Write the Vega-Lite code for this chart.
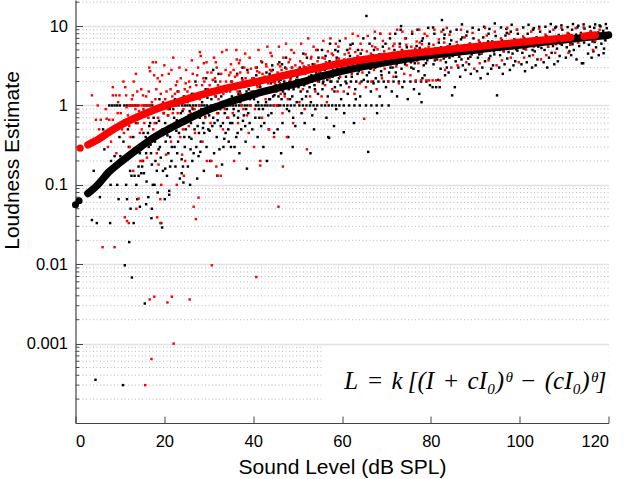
{
  "$schema": "https://vega.github.io/schema/vega-lite/v6.json",
  "width": 533,
  "height": 423,
  "autosize": {"type": "none"},
  "padding": {"left": 75.5, "top": 0, "right": 15.5, "bottom": 56},
  "background": "white",
  "config": {"view": {"stroke": null}, "font": "Liberation Sans"},
  "datasets": {
    "minor": [
      {"v": 0.0002}, {"v": 0.0003}, {"v": 0.0004}, {"v": 0.0005}, {"v": 0.0006}, {"v": 0.0007}, {"v": 0.0008}, {"v": 0.0009},
      {"v": 0.002}, {"v": 0.003}, {"v": 0.004}, {"v": 0.005}, {"v": 0.006}, {"v": 0.007}, {"v": 0.008}, {"v": 0.009},
      {"v": 0.02}, {"v": 0.03}, {"v": 0.04}, {"v": 0.05}, {"v": 0.06}, {"v": 0.07}, {"v": 0.08}, {"v": 0.09},
      {"v": 0.2}, {"v": 0.3}, {"v": 0.4}, {"v": 0.5}, {"v": 0.6}, {"v": 0.7}, {"v": 0.8}, {"v": 0.9},
      {"v": 2}, {"v": 3}, {"v": 4}, {"v": 5}, {"v": 6}, {"v": 7}, {"v": 8}, {"v": 9}, {"v": 20}
    ],
    "black": [
      {"x":4.5,"y":0.00035},{"x":10.7,"y":0.0003},{"x":11.1,"y":0.0097},{"x":12.7,"y":0.0068},{"x":15.6,"y":0.0032},{"x":12.1,"y":0.019},{"x":3.7,"y":0.036},{"x":4.8,"y":0.033},{"x":7.8,"y":0.033},{"x":4.1,"y":0.15},{"x":7.9,"y":0.1},{"x":9.4,"y":0.1},{"x":8.8,"y":0.23},{"x":9.7,"y":0.066},{"x":6.5,"y":0.28},{"x":8,"y":0.2},{"x":9,"y":0.16},{"x":7.6,"y":1},{"x":8.2,"y":1},{"x":8.8,"y":1},{"x":9.4,"y":1},{"x":10,"y":1},{"x":6.2,"y":0.5},{"x":5.5,"y":0.07},{"x":9.9,"y":0.4},
      {"x":10.1,"y":0.23},{"x":10.5,"y":0.2},{"x":11.4,"y":0.1},{"x":11.6,"y":0.066},{"x":12.4,"y":0.05},{"x":12.6,"y":0.13},{"x":13.3,"y":0.13},{"x":13.1,"y":0.033},{"x":13.7,"y":0.1},{"x":13.9,"y":0.066},{"x":14.2,"y":0.17},{"x":14.2,"y":0.13},{"x":14.5,"y":0.053},{"x":14.8,"y":0.14},{"x":11,"y":1},{"x":11.6,"y":1},{"x":12.2,"y":1},{"x":12.8,"y":1},{"x":13.4,"y":1},{"x":14,"y":1},{"x":12,"y":0.3},{"x":13,"y":0.4},{"x":14.5,"y":0.25},{"x":11.8,"y":0.5},{"x":13.6,"y":0.6},{"x":10.8,"y":0.35},{"x":12.3,"y":0.15},{"x":14.8,"y":0.75},
      {"x":15,"y":0.17},{"x":15.4,"y":0.14},{"x":15.9,"y":0.057},{"x":16,"y":0.11},{"x":16.5,"y":0.3},{"x":17.2,"y":0.05},{"x":17.1,"y":0.038},{"x":17.4,"y":0.1},{"x":17.8,"y":0.1},{"x":18.6,"y":0.4},{"x":18.8,"y":0.64},{"x":19.3,"y":0.033},{"x":19.5,"y":0.029},{"x":15.5,"y":1},{"x":16.1,"y":1},{"x":16.7,"y":1},{"x":17.3,"y":1},{"x":15.2,"y":0.2},{"x":16.3,"y":0.45},{"x":17,"y":0.25},{"x":17.6,"y":0.7},{"x":18,"y":0.2},{"x":18.3,"y":0.15},{"x":19,"y":0.3},{"x":19.6,"y":0.5},{"x":19.9,"y":0.8},{"x":16.8,"y":0.6},{"x":18.9,"y":1.2},{"x":15.8,"y":0.4},{"x":17.9,"y":0.35},{"x":19.2,"y":0.22},{"x":18.5,"y":0.08},{"x":16.4,"y":0.07},
      {"x":20.1,"y":0.066},{"x":20.2,"y":0.16},{"x":20.6,"y":0.13},{"x":20.8,"y":0.75},{"x":21.1,"y":0.075},{"x":21.1,"y":0.084},{"x":21.3,"y":0.4},{"x":21.3,"y":0.17},{"x":22.5,"y":0.17},{"x":23.9,"y":0.21},{"x":24.2,"y":0.17},{"x":24.3,"y":0.107},{"x":24.6,"y":0.3},{"x":20.5,"y":1},{"x":21.5,"y":1},{"x":22,"y":1},{"x":22.6,"y":1},{"x":23.2,"y":1},{"x":24,"y":1},{"x":24.6,"y":1},{"x":20,"y":0.5},{"x":21.8,"y":0.55},{"x":22.3,"y":0.3},{"x":22.8,"y":0.65},{"x":23.3,"y":0.45},{"x":23.7,"y":0.8},{"x":24.8,"y":0.5},{"x":20.9,"y":0.25},{"x":22,"y":0.9},{"x":23,"y":1.5},{"x":24.4,"y":1.3},{"x":21.6,"y":0.2},{"x":23.5,"y":0.12},{"x":22.9,"y":0.25},{"x":24.9,"y":0.7},{"x":20.3,"y":0.35},
      {"x":25.3,"y":0.17},{"x":25.8,"y":0.1},{"x":25.6,"y":0.4},{"x":26,"y":0.6},{"x":26.4,"y":0.9},{"x":26.8,"y":0.5},{"x":27.2,"y":0.3},{"x":27.7,"y":0.23},{"x":28,"y":0.7},{"x":28.5,"y":1.1},{"x":29,"y":0.45},{"x":29.5,"y":0.3},{"x":29.8,"y":0.8},{"x":25.2,"y":1},{"x":25.8,"y":1},{"x":26.5,"y":1},{"x":27.1,"y":1},{"x":27.8,"y":1},{"x":28.4,"y":1},{"x":29,"y":1},{"x":29.6,"y":1},{"x":25.5,"y":0.75},{"x":26.2,"y":1.4},{"x":27,"y":2},{"x":27.5,"y":0.55},{"x":28.2,"y":0.35},{"x":28.8,"y":0.6},{"x":29.3,"y":1.6},{"x":26.6,"y":0.25},{"x":28.9,"y":0.15},{"x":27.4,"y":0.12},{"x":29.9,"y":0.5},{"x":25.9,"y":0.28},{"x":26.9,"y":0.8},
      {"x":30.2,"y":0.48},{"x":30.3,"y":0.2},{"x":30.6,"y":1.2},{"x":31,"y":0.7},{"x":31.4,"y":0.9},{"x":31.8,"y":0.4},{"x":32.4,"y":0.28},{"x":32.8,"y":1.3},{"x":33.2,"y":0.6},{"x":33.6,"y":0.8},{"x":34,"y":1.5},{"x":34.4,"y":0.5},{"x":35,"y":0.3},{"x":30.5,"y":1},{"x":31.1,"y":1},{"x":31.7,"y":1},{"x":32.3,"y":1},{"x":33,"y":1},{"x":33.7,"y":1},{"x":34.3,"y":1},{"x":34.9,"y":1},{"x":30.8,"y":0.55},{"x":31.5,"y":2},{"x":32,"y":0.65},{"x":32.6,"y":0.9},{"x":33.4,"y":1.7},{"x":34.2,"y":0.7},{"x":34.7,"y":1.2},{"x":31.2,"y":0.25},{"x":33,"y":0.18},{"x":34.5,"y":0.35},{"x":30.9,"y":1.6},{"x":32.2,"y":2.5},{"x":33.8,"y":0.45},{"x":31.9,"y":0.13},
      {"x":35.3,"y":0.6},{"x":35.6,"y":0.9},{"x":36,"y":1.2},{"x":36.2,"y":0.4},{"x":36.6,"y":0.7},{"x":37,"y":1.5},{"x":37.3,"y":0.5},{"x":37.7,"y":0.64},{"x":38,"y":1.8},{"x":38.4,"y":0.9},{"x":38.8,"y":1.3},{"x":39.2,"y":0.6},{"x":39.6,"y":2},{"x":35.5,"y":1},{"x":36.1,"y":1},{"x":36.8,"y":1},{"x":37.4,"y":1},{"x":38.1,"y":1},{"x":38.7,"y":1},{"x":39.4,"y":1},{"x":35.8,"y":0.3},{"x":36.9,"y":0.25},{"x":38.3,"y":0.35},{"x":39.8,"y":0.5},{"x":35.1,"y":2},{"x":36.4,"y":2.5},{"x":37.6,"y":3},{"x":39,"y":1.6},{"x":38.6,"y":0.16},{"x":37.9,"y":0.75},{"x":39.3,"y":1.2},{"x":36.7,"y":1.4},
      {"x":40.2,"y":1.2},{"x":40.5,"y":0.7},{"x":40.9,"y":1.8},{"x":41.3,"y":0.9},{"x":41.7,"y":1.4},{"x":42.1,"y":2.2},{"x":42.5,"y":0.6},{"x":42.9,"y":1.1},{"x":43.3,"y":1.6},{"x":43.7,"y":2.5},{"x":44.1,"y":0.8},{"x":44.5,"y":1.3},{"x":44.9,"y":2},{"x":40.6,"y":1},{"x":41.2,"y":1},{"x":41.9,"y":1},{"x":42.6,"y":1},{"x":43.2,"y":1},{"x":43.9,"y":1},{"x":44.6,"y":1},{"x":40.3,"y":2},{"x":41.5,"y":2},{"x":42.8,"y":2},{"x":44.2,"y":2},{"x":41,"y":0.4},{"x":42.3,"y":0.3},{"x":43.5,"y":0.5},{"x":44.7,"y":0.45},{"x":40.8,"y":3},{"x":42,"y":3.5},{"x":43.1,"y":0.2},{"x":44.4,"y":2.8},{"x":41.8,"y":0.55},{"x":43.8,"y":1.2},
      {"x":45.2,"y":1.5},{"x":45.6,"y":1},{"x":46,"y":2.4},{"x":46.4,"y":1.2},{"x":46.8,"y":1.8},{"x":47.2,"y":3},{"x":47.6,"y":0.9},{"x":48,"y":1.6},{"x":48.4,"y":2.2},{"x":48.8,"y":1.3},{"x":49.2,"y":2.6},{"x":49.6,"y":1.9},{"x":45.4,"y":1},{"x":46.1,"y":1},{"x":46.9,"y":1},{"x":47.7,"y":1},{"x":48.5,"y":1},{"x":49.3,"y":1},{"x":45.8,"y":2},{"x":47,"y":2},{"x":48.2,"y":2},{"x":49.4,"y":2},{"x":45.5,"y":0.5},{"x":46.6,"y":0.6},{"x":47.9,"y":0.4},{"x":49,"y":0.7},{"x":45.9,"y":3.5},{"x":47.4,"y":4},{"x":48.7,"y":3},{"x":49.8,"y":1.1},{"x":46.3,"y":0.25},{"x":48.9,"y":0.3},{"x":47.1,"y":1.4},{"x":49.9,"y":2.3},
      {"x":50.2,"y":1.7},{"x":50.6,"y":2.5},{"x":51,"y":1.2},{"x":51.4,"y":2},{"x":51.8,"y":3},{"x":52.2,"y":1.5},{"x":52.6,"y":2.3},{"x":53,"y":1.1},{"x":53.4,"y":3.3},{"x":53.8,"y":1.8},{"x":54.2,"y":2.6},{"x":54.6,"y":1.4},{"x":50.4,"y":1},{"x":51.2,"y":1},{"x":52,"y":1},{"x":52.8,"y":1},{"x":53.6,"y":1},{"x":54.4,"y":1},{"x":50.8,"y":2},{"x":52.4,"y":2},{"x":53.2,"y":2},{"x":54.8,"y":2},{"x":50.5,"y":3},{"x":52.1,"y":4},{"x":53.5,"y":3},{"x":54.5,"y":5},{"x":51.6,"y":0.6},{"x":53.7,"y":0.5},{"x":50.9,"y":0.8},{"x":54,"y":0.9},{"x":52.9,"y":0.25},{"x":51.3,"y":4.5},
      {"x":55.2,"y":2.2},{"x":55.6,"y":1.6},{"x":56,"y":3},{"x":56.4,"y":2.4},{"x":56.8,"y":1.3},{"x":57.2,"y":3.6},{"x":57.6,"y":2},{"x":58,"y":2.8},{"x":58.4,"y":1.7},{"x":58.8,"y":4},{"x":59.2,"y":2.5},{"x":59.6,"y":3.2},{"x":55.4,"y":1},{"x":56.2,"y":1},{"x":57,"y":1},{"x":57.8,"y":1},{"x":58.6,"y":1},{"x":59.4,"y":1},{"x":55.8,"y":2},{"x":57.4,"y":2},{"x":59,"y":2},{"x":55.5,"y":5},{"x":57.3,"y":6},{"x":58.5,"y":5},{"x":56.5,"y":0.7},{"x":58.2,"y":0.55},{"x":59.8,"y":1.2},{"x":56.9,"y":0.4},{"x":59.5,"y":6.5},{"x":57.1,"y":0.39},
      {"x":60.2,"y":2.6},{"x":60.6,"y":3.4},{"x":61,"y":1.9},{"x":61.4,"y":2.9},{"x":61.8,"y":4.2},{"x":62.2,"y":2.3},{"x":62.6,"y":3.1},{"x":63,"y":1.6},{"x":63.4,"y":3.8},{"x":63.8,"y":2.7},{"x":64.2,"y":4.5},{"x":64.6,"y":3},{"x":60.4,"y":1},{"x":61.6,"y":1},{"x":62.8,"y":1},{"x":64,"y":1},{"x":60.8,"y":2},{"x":62,"y":2},{"x":63.2,"y":2},{"x":64.4,"y":2},{"x":61.2,"y":5},{"x":62.4,"y":6},{"x":63.6,"y":5},{"x":64.8,"y":7},{"x":60.5,"y":0.8},{"x":62.7,"y":0.6},{"x":64.1,"y":1.3},{"x":61.3,"y":1.4},{"x":65.5,"y":13.4},{"x":65.9,"y":0.26},{"x":60.4,"y":0.46},
      {"x":65.2,"y":3.2},{"x":65.6,"y":2.4},{"x":66,"y":4},{"x":66.4,"y":2.9},{"x":66.8,"y":3.6},{"x":67.2,"y":5},{"x":67.6,"y":2.2},{"x":68,"y":3.3},{"x":68.4,"y":4.4},{"x":68.8,"y":2.7},{"x":69.2,"y":5.5},{"x":69.6,"y":3.8},{"x":65.4,"y":1},{"x":66.6,"y":1},{"x":67.8,"y":1},{"x":69,"y":1},{"x":65.8,"y":2},{"x":67,"y":2},{"x":68.2,"y":2},{"x":69.4,"y":2},{"x":66.2,"y":6},{"x":67.4,"y":7},{"x":68.6,"y":8},{"x":69.8,"y":6},{"x":66.5,"y":1.5},{"x":68.5,"y":1.3},{"x":67.9,"y":0.8},{"x":69.9,"y":1.7},
      {"x":70.2,"y":3.5},{"x":70.6,"y":2.6},{"x":71,"y":4.2},{"x":71.4,"y":3},{"x":71.8,"y":5},{"x":72.2,"y":2.3},{"x":72.6,"y":3.7},{"x":73,"y":6},{"x":73.4,"y":2.9},{"x":73.8,"y":4.6},{"x":74.2,"y":3.3},{"x":74.6,"y":5.4},{"x":70.4,"y":2},{"x":71.6,"y":2},{"x":72.8,"y":2},{"x":74,"y":2},{"x":70.8,"y":7},{"x":72,"y":8},{"x":73.2,"y":9},{"x":74.4,"y":7},{"x":71.2,"y":1.5},{"x":72.4,"y":1.3},{"x":73.6,"y":1.7},{"x":74.8,"y":1.2},{"x":70.5,"y":1},{"x":73.3,"y":10},
      {"x":75.2,"y":3.9},{"x":75.6,"y":3},{"x":76,"y":4.8},{"x":76.4,"y":3.4},{"x":76.8,"y":5.6},{"x":77.2,"y":2.7},{"x":77.6,"y":4.2},{"x":78,"y":6.5},{"x":78.4,"y":3.2},{"x":78.8,"y":5},{"x":79.2,"y":3.7},{"x":79.6,"y":6},{"x":75.4,"y":2},{"x":76.6,"y":2},{"x":77.8,"y":2},{"x":79,"y":2},{"x":75.8,"y":8},{"x":77,"y":9},{"x":78.2,"y":7},{"x":79.4,"y":9.5},{"x":76.2,"y":1.6},{"x":77.4,"y":1.4},{"x":78.6,"y":2.4},{"x":79.8,"y":1.8},{"x":77.9,"y":1.1},
      {"x":80.2,"y":4.3},{"x":80.6,"y":3.3},{"x":81,"y":5.2},{"x":81.4,"y":3.8},{"x":81.8,"y":6.2},{"x":82.2,"y":2.9},{"x":82.5,"y":11.9},{"x":82.6,"y":4.6},{"x":83,"y":7},{"x":83.4,"y":3.5},{"x":83.8,"y":5.5},{"x":84.2,"y":4},{"x":84.6,"y":6.6},{"x":80.4,"y":1.7},{"x":81.2,"y":1.7},{"x":82,"y":1.7},{"x":83.2,"y":2.4},{"x":84,"y":2.6},{"x":80.8,"y":8},{"x":82.8,"y":9},{"x":84.4,"y":8.5},{"x":81.6,"y":2.1},{"x":83.6,"y":3},{"x":84.8,"y":1.34},{"x":80.5,"y":9.6},
      {"x":85.2,"y":4.7},{"x":85.6,"y":3.6},{"x":86,"y":5.7},{"x":86.4,"y":4.1},{"x":86.8,"y":6.8},{"x":87.2,"y":3.2},{"x":87.6,"y":5},{"x":88,"y":7.6},{"x":88.4,"y":3.9},{"x":88.8,"y":6},{"x":89.2,"y":4.4},{"x":89.6,"y":7},{"x":85.4,"y":1.7},{"x":86.6,"y":2.3},{"x":87.8,"y":2.8},{"x":89,"y":2.5},{"x":85.8,"y":9},{"x":87,"y":10.5},{"x":88.2,"y":8.5},{"x":89.4,"y":9.5},{"x":86.2,"y":3},{"x":88.6,"y":3.3},
      {"x":90.2,"y":5.1},{"x":90.6,"y":4},{"x":91,"y":6.2},{"x":91.4,"y":4.5},{"x":91.8,"y":7.2},{"x":92.2,"y":3.6},{"x":92.6,"y":5.5},{"x":93,"y":8},{"x":93.4,"y":4.2},{"x":93.8,"y":6.4},{"x":94.2,"y":4.8},{"x":94.6,"y":7.5},{"x":90.4,"y":2.7},{"x":91.6,"y":3},{"x":92.8,"y":2.5},{"x":94,"y":3.2},{"x":90.8,"y":9},{"x":92,"y":9.8},{"x":93.2,"y":9.2},{"x":94.4,"y":10.8},{"x":94.9,"y":1.34},{"x":91.2,"y":2.2},{"x":93.6,"y":2.9},
      {"x":95.2,"y":5.4},{"x":95.6,"y":4.3},{"x":96,"y":6.6},{"x":96.4,"y":4.8},{"x":96.8,"y":7.6},{"x":97.2,"y":3.9},{"x":97.6,"y":5.9},{"x":98,"y":8.5},{"x":98.4,"y":4.5},{"x":98.8,"y":6.8},{"x":99.2,"y":5.1},{"x":99.6,"y":8},{"x":95.4,"y":3},{"x":96.6,"y":3.3},{"x":97.8,"y":2.8},{"x":99,"y":3.6},{"x":95.8,"y":9.6},{"x":97,"y":9.2},{"x":98.2,"y":10.4},{"x":99.4,"y":9},{"x":96.2,"y":2.5},{"x":98.6,"y":3.2},
      {"x":100.2,"y":5.8},{"x":100.6,"y":4.6},{"x":101,"y":7},{"x":101.4,"y":5.1},{"x":101.8,"y":8},{"x":102.2,"y":4.2},{"x":102.6,"y":6.3},{"x":103,"y":9},{"x":103.4,"y":4.8},{"x":103.8,"y":7.2},{"x":104.2,"y":5.5},{"x":104.6,"y":8.5},{"x":100.4,"y":3.3},{"x":101.6,"y":3.5},{"x":102.8,"y":3},{"x":104,"y":3.8},{"x":100.8,"y":9.6},{"x":102,"y":10.4},{"x":103.2,"y":9.4},{"x":104.4,"y":9.8},{"x":101.2,"y":2.7},{"x":103.6,"y":3.2},
      {"x":105.2,"y":6.2},{"x":105.6,"y":5},{"x":106,"y":7.5},{"x":106.4,"y":5.5},{"x":106.8,"y":8.5},{"x":107.2,"y":4.6},{"x":107.6,"y":6.7},{"x":108,"y":9.5},{"x":108.4,"y":5.2},{"x":108.8,"y":7.7},{"x":109.2,"y":6},{"x":109.6,"y":9},{"x":105.4,"y":3.5},{"x":106.6,"y":4},{"x":107.8,"y":3.3},{"x":109,"y":4.2},{"x":105.8,"y":9.8},{"x":107,"y":10.6},{"x":108.2,"y":9.8},{"x":109.4,"y":10.2},{"x":106.2,"y":3},{"x":108.6,"y":3.6},
      {"x":110.2,"y":6.7},{"x":110.6,"y":5.4},{"x":111,"y":8},{"x":111.4,"y":6},{"x":111.8,"y":9},{"x":112.2,"y":5},{"x":112.6,"y":7.2},{"x":113,"y":9.6},{"x":113.4,"y":5.6},{"x":113.8,"y":8.2},{"x":114,"y":3.4},{"x":114.3,"y":3.4},{"x":114.6,"y":9.3},{"x":110.4,"y":4},{"x":111.6,"y":4.3},{"x":112.8,"y":3.8},{"x":110.8,"y":9.7},{"x":112,"y":10.6},{"x":113.2,"y":10.1},{"x":114.4,"y":10.5},{"x":111.2,"y":4.8},
      {"x":115.2,"y":7.2},{"x":115.6,"y":5.8},{"x":116,"y":8.5},{"x":116.4,"y":6.4},{"x":116.8,"y":9.5},{"x":117.2,"y":5.4},{"x":117.6,"y":7.6},{"x":118,"y":10.2},{"x":118.4,"y":6},{"x":118.8,"y":8.7},{"x":118.9,"y":4.55},{"x":119.2,"y":6.8},{"x":119.6,"y":9.4},{"x":115.4,"y":4.5},{"x":116.6,"y":4.8},{"x":117.8,"y":4.3},{"x":119,"y":5.2},{"x":115.8,"y":9.8},{"x":117,"y":10.5},{"x":118.2,"y":9.9},{"x":119.4,"y":10.6},{"x":116.2,"y":4},
      {"x":15.3,"y":0.45},{"x":15.9,"y":0.25},{"x":16.6,"y":0.55},{"x":17.2,"y":0.18},{"x":17.7,"y":0.42},{"x":18.2,"y":0.6},{"x":18.7,"y":0.28},{"x":19.1,"y":0.9},{"x":19.7,"y":0.15},{"x":16.9,"y":0.32},
      {"x":20.2,"y":0.6},{"x":20.7,"y":0.42},{"x":21.2,"y":0.9},{"x":21.7,"y":0.3},{"x":22.2,"y":0.7},{"x":22.7,"y":0.48},{"x":23.1,"y":0.35},{"x":23.6,"y":0.6},{"x":24.1,"y":0.85},{"x":24.5,"y":0.4},{"x":21,"y":0.55},{"x":23.9,"y":0.14},{"x":22.4,"y":1.2},
      {"x":25.1,"y":0.62},{"x":25.7,"y":0.85},{"x":26.1,"y":0.38},{"x":26.7,"y":0.7},{"x":27.3,"y":1.3},{"x":27.8,"y":0.45},{"x":28.3,"y":0.9},{"x":28.7,"y":0.52},{"x":29.2,"y":0.72},{"x":29.7,"y":1.25},{"x":26.3,"y":0.2},{"x":28.1,"y":0.26},{"x":29.4,"y":2.2},
      {"x":30.1,"y":0.75},{"x":30.7,"y":0.95},{"x":31.3,"y":0.6},{"x":31.6,"y":1.3},{"x":32.1,"y":0.8},{"x":32.7,"y":0.55},{"x":33.1,"y":1.1},{"x":33.5,"y":0.38},{"x":34.1,"y":0.9},{"x":34.6,"y":1.7},{"x":31,"y":2.8},{"x":33.3,"y":0.3},{"x":34.8,"y":0.6},
      {"x":35.2,"y":1.3},{"x":35.7,"y":0.75},{"x":36.3,"y":1.7},{"x":36.7,"y":0.85},{"x":37.1,"y":1.1},{"x":37.5,"y":2.2},{"x":38.2,"y":0.55},{"x":38.5,"y":1.5},{"x":38.9,"y":0.8},{"x":39.5,"y":1.9},{"x":39.9,"y":1.3},{"x":36.5,"y":0.45},{"x":38.7,"y":2.8},
      {"x":40.1,"y":1.5},{"x":40.7,"y":2.4},{"x":41.1,"y":1.1},{"x":41.6,"y":1.7},{"x":42.2,"y":0.9},{"x":42.7,"y":1.6},{"x":43,"y":2.6},{"x":43.6,"y":1.2},{"x":44,"y":1.9},{"x":44.8,"y":1.35},{"x":41.4,"y":0.7},{"x":43.4,"y":0.75},{"x":44.3,"y":3.2},
      {"x":45.1,"y":1.8},{"x":45.7,"y":1.3},{"x":46.2,"y":2.1},{"x":46.7,"y":1.5},{"x":47.3,"y":2.3},{"x":47.8,"y":1.7},{"x":48.3,"y":1.2},{"x":48.6,"y":2.7},{"x":49.1,"y":1.6},{"x":49.7,"y":2.1},{"x":46.5,"y":3.3},{"x":48.1,"y":0.85},{"x":49.5,"y":0.55},
      {"x":50.1,"y":2.1},{"x":50.7,"y":1.5},{"x":51.1,"y":2.6},{"x":51.5,"y":1.8},{"x":52.3,"y":2.8},{"x":52.7,"y":1.7},{"x":53.1,"y":2.4},{"x":53.9,"y":1.6},{"x":54.3,"y":3.1},{"x":54.9,"y":2.2},{"x":51.9,"y":1.3},{"x":53.3,"y":0.75},{"x":54.7,"y":4},
      {"x":55.1,"y":2.6},{"x":55.7,"y":1.9},{"x":56.1,"y":2.8},{"x":56.7,"y":2.1},{"x":57.5,"y":3.2},{"x":57.9,"y":2.3},{"x":58.3,"y":1.5},{"x":58.9,"y":3},{"x":59.3,"y":2.2},{"x":59.7,"y":1.8},{"x":56.3,"y":4.2},{"x":58.7,"y":0.9},{"x":59.1,"y":4.8},
      {"x":60.3,"y":3},{"x":60.9,"y":2.3},{"x":61.5,"y":3.5},{"x":62.1,"y":2.7},{"x":62.9,"y":3.9},{"x":63.5,"y":2.5},{"x":64.3,"y":3.4},{"x":64.9,"y":2.1},{"x":65.5,"y":3.6},{"x":66.1,"y":2.6},{"x":66.9,"y":4.3},{"x":67.5,"y":3},{"x":68.1,"y":3.8},{"x":68.9,"y":2.4},{"x":69.5,"y":4.4},{"x":63.1,"y":1.2},{"x":67.1,"y":1.9},{"x":61.9,"y":5.8},
      {"x":70.3,"y":3.9},{"x":70.9,"y":3},{"x":71.5,"y":4.4},{"x":72.3,"y":3.3},{"x":72.9,"y":4.1},{"x":73.5,"y":5},{"x":74.3,"y":3.6},{"x":74.9,"y":4.5},{"x":75.5,"y":3.5},{"x":76.3,"y":4.4},{"x":76.9,"y":3.7},{"x":77.5,"y":5.3},{"x":78.3,"y":4},{"x":78.9,"y":3.4},{"x":79.5,"y":4.8},{"x":72.1,"y":2.6},{"x":76.1,"y":2.9},{"x":78.1,"y":2.2},
      {"x":80.3,"y":4.7},{"x":80.9,"y":3.7},{"x":81.5,"y":4.4},{"x":82.3,"y":5.4},{"x":82.9,"y":3.9},{"x":83.5,"y":4.6},{"x":84.3,"y":5.9},{"x":84.9,"y":4.2},{"x":85.5,"y":5.1},{"x":86.3,"y":4.5},{"x":86.9,"y":3.8},{"x":87.5,"y":5.7},{"x":88.3,"y":4.8},{"x":88.9,"y":4.1},{"x":89.5,"y":5.3},{"x":83.1,"y":7.8},{"x":87.1,"y":7.2},
      {"x":90.3,"y":5.3},{"x":90.9,"y":4.4},{"x":91.5,"y":5.7},{"x":92.3,"y":4.9},{"x":92.9,"y":6.4},{"x":93.5,"y":5.2},{"x":94.3,"y":4.4},{"x":94.9,"y":5.9},{"x":95.5,"y":5},{"x":96.3,"y":6.1},{"x":96.9,"y":5.3},{"x":97.5,"y":4.7},{"x":98.3,"y":6.2},{"x":98.9,"y":5.5},{"x":99.5,"y":4.9},{"x":93.1,"y":3.9},{"x":97.1,"y":8.2},
      {"x":100.3,"y":6},{"x":100.9,"y":5.2},{"x":101.5,"y":6.6},{"x":102.3,"y":5.9},{"x":102.9,"y":5},{"x":103.5,"y":6.9},{"x":104.3,"y":6.1},{"x":104.9,"y":5.3},{"x":105.5,"y":6.6},{"x":106.3,"y":7.1},{"x":106.9,"y":6},{"x":107.5,"y":5.6},{"x":108.3,"y":7.2},{"x":108.9,"y":6.3},{"x":109.5,"y":5.8},{"x":110.3,"y":7.3},{"x":111.1,"y":6.4},{"x":111.9,"y":5.9},{"x":112.7,"y":7.8},{"x":113.5,"y":6.8},{"x":114.5,"y":6.2},{"x":115.3,"y":8},{"x":116.1,"y":7},{"x":116.9,"y":6.3},{"x":117.7,"y":8.3},{"x":118.5,"y":7.3},{"x":119.3,"y":6.6},{"x":119.8,"y":8.1}
    ],
    "red": [
      {"x":3.7,"y":1.34},{"x":4.6,"y":0.66},{"x":5.7,"y":0.66},{"x":7.6,"y":0.66},{"x":8.4,"y":0.66},{"x":8.4,"y":1.7},{"x":8.4,"y":1.34},{"x":9.1,"y":1.34},{"x":9.9,"y":1.34},{"x":6.1,"y":0.0164},{"x":8.8,"y":0.0164},{"x":7,"y":0.68},{"x":6.5,"y":0.45},{"x":9.5,"y":0.8},{"x":8,"y":0.35},{"x":9.2,"y":0.25},{"x":5,"y":1},{"x":9.7,"y":0.55},
      {"x":11.4,"y":1.34},{"x":12.9,"y":1.34},{"x":13.1,"y":2},{"x":11.1,"y":0.039},{"x":12,"y":0.033},{"x":11.6,"y":0.035},{"x":13.7,"y":0.05},{"x":14.2,"y":0.067},{"x":14.6,"y":0.2},{"x":15,"y":0.2},{"x":12,"y":1},{"x":12.6,"y":1},{"x":13.2,"y":1},{"x":13.8,"y":1},{"x":14.4,"y":1},{"x":10.5,"y":0.5},{"x":11.8,"y":0.75},{"x":12.4,"y":0.4},{"x":13.5,"y":0.9},{"x":14,"y":0.6},{"x":14.8,"y":1.6},{"x":10.8,"y":2},{"x":12.2,"y":0.3},{"x":13,"y":0.15},{"x":14.5,"y":0.45},{"x":11,"y":0.65},
      {"x":15.2,"y":1.34},{"x":15.7,"y":0.0003},{"x":16.1,"y":0.22},{"x":16.7,"y":0.0036},{"x":17.1,"y":0.00064},{"x":17.75,"y":0.0039},{"x":17.7,"y":2.4},{"x":18.1,"y":3.5},{"x":17.4,"y":3.5},{"x":18.4,"y":0.039},{"x":18.7,"y":0.18},{"x":19.1,"y":0.066},{"x":19.1,"y":0.033},{"x":19.3,"y":0.1},{"x":19.5,"y":2.4},{"x":15,"y":1},{"x":15.6,"y":1},{"x":16.2,"y":1},{"x":16.8,"y":1},{"x":15.5,"y":0.6},{"x":16.5,"y":1.5},{"x":17,"y":0.8},{"x":17.5,"y":0.5},{"x":18,"y":1.2},{"x":18.6,"y":0.7},{"x":19,"y":2},{"x":19.7,"y":1.1},{"x":16,"y":0.35},{"x":18.3,"y":0.25},{"x":19.4,"y":0.45},{"x":16.8,"y":2.7},
      {"x":20.4,"y":0.24},{"x":20.7,"y":0.0033},{"x":21,"y":2.5},{"x":21.7,"y":0.0039},{"x":22.1,"y":0.001},{"x":22.8,"y":0.1},{"x":22.9,"y":2},{"x":24,"y":0.24},{"x":24.4,"y":0.13},{"x":24.7,"y":0.2},{"x":24.9,"y":2.8},{"x":20.5,"y":1.5},{"x":21.2,"y":1},{"x":21.8,"y":1.3},{"x":22.3,"y":0.6},{"x":22.6,"y":1.8},{"x":23,"y":0.8},{"x":23.4,"y":3},{"x":23.8,"y":1.1},{"x":24.2,"y":0.5},{"x":24.6,"y":1.6},{"x":20.9,"y":0.75},{"x":23.6,"y":0.4},{"x":21.5,"y":0.35},{"x":20,"y":3.2},{"x":22,"y":4},{"x":23.2,"y":1.5},{"x":24.8,"y":1.2},
      {"x":25.7,"y":0.0036},{"x":26.6,"y":0.053},{"x":27.1,"y":0.037},{"x":27.7,"y":0.069},{"x":28,"y":4.7},{"x":28.2,"y":4.2},{"x":29.6,"y":0.2},{"x":25.2,"y":1.5},{"x":25.6,"y":2},{"x":26,"y":1.2},{"x":26.4,"y":2.5},{"x":26.8,"y":0.9},{"x":27.2,"y":1.8},{"x":27.6,"y":3},{"x":28.4,"y":1.4},{"x":28.8,"y":2.2},{"x":29.2,"y":0.7},{"x":29.8,"y":1.6},{"x":25.5,"y":0.55},{"x":26.9,"y":0.45},{"x":28.6,"y":0.35},{"x":29.5,"y":3.5},{"x":26.2,"y":3.7},{"x":27.9,"y":1},{"x":29,"y":2},{"x":25.9,"y":0.8},
      {"x":30.6,"y":0.2},{"x":30.7,"y":0.0097},{"x":31.7,"y":0.17},{"x":32,"y":0.13},{"x":32.7,"y":0.13},{"x":33,"y":4.7},{"x":30.2,"y":1.8},{"x":30.6,"y":2.6},{"x":31,"y":1.4},{"x":31.4,"y":2.2},{"x":31.8,"y":3},{"x":32.2,"y":1.2},{"x":32.6,"y":2},{"x":33.4,"y":1.6},{"x":33.8,"y":2.8},{"x":34.2,"y":1.1},{"x":34.6,"y":2.4},{"x":35,"y":3.3},{"x":30.4,"y":0.6},{"x":31.9,"y":0.8},{"x":33.2,"y":0.5},{"x":34.4,"y":0.7},{"x":31.2,"y":4},{"x":34,"y":5},{"x":32.4,"y":1},{"x":34.8,"y":1.5},
      {"x":35.7,"y":0.2},{"x":37,"y":3.7},{"x":35.2,"y":2},{"x":35.6,"y":2.8},{"x":36,"y":1.6},{"x":36.4,"y":2.4},{"x":36.8,"y":3.4},{"x":37.2,"y":1.4},{"x":37.6,"y":2.1},{"x":38,"y":3},{"x":38.4,"y":1.8},{"x":38.8,"y":2.6},{"x":39.2,"y":4},{"x":39.6,"y":1.5},{"x":35.4,"y":0.8},{"x":36.6,"y":0.6},{"x":37.8,"y":0.9},{"x":39,"y":0.45},{"x":36.2,"y":5},{"x":38.2,"y":4.5},{"x":39.4,"y":1},{"x":37.4,"y":1},{"x":39.8,"y":2.2},
      {"x":40.7,"y":0.0069},{"x":41.6,"y":0.2},{"x":41.6,"y":0.175},{"x":40.2,"y":0.3},{"x":40.2,"y":2.2},{"x":40.6,"y":3},{"x":41,"y":1.7},{"x":41.4,"y":2.6},{"x":41.8,"y":3.6},{"x":42.2,"y":1.5},{"x":42.6,"y":2.3},{"x":43,"y":3.1},{"x":43.4,"y":1.9},{"x":43.8,"y":2.8},{"x":44.2,"y":4.2},{"x":44.6,"y":1.6},{"x":40.4,"y":0.9},{"x":42,"y":0.7},{"x":43.6,"y":0.5},{"x":44.8,"y":1},{"x":41.2,"y":5},{"x":43.2,"y":5.5},{"x":42.8,"y":1.2},{"x":44.4,"y":2},{"x":40.8,"y":1.3},{"x":44.7,"y":0.4},
      {"x":46.7,"y":0.17},{"x":45.7,"y":0.053},{"x":47.6,"y":0.4},{"x":45.2,"y":2.4},{"x":45.6,"y":3.3},{"x":46,"y":1.9},{"x":46.4,"y":2.8},{"x":46.8,"y":4},{"x":47.2,"y":1.7},{"x":47.6,"y":2.6},{"x":48,"y":3.5},{"x":48.4,"y":2.1},{"x":48.8,"y":3},{"x":49.2,"y":4.6},{"x":49.6,"y":1.8},{"x":45.4,"y":1},{"x":46.6,"y":0.8},{"x":47.8,"y":1.2},{"x":49,"y":0.6},{"x":45.8,"y":5.5},{"x":47.4,"y":6},{"x":48.6,"y":5},{"x":49.8,"y":2.4},{"x":46.2,"y":1.4},
      {"x":52.1,"y":0.28},{"x":50.2,"y":2.7},{"x":50.6,"y":3.6},{"x":51,"y":2.1},{"x":51.4,"y":3.1},{"x":51.8,"y":4.4},{"x":52.2,"y":1.9},{"x":52.6,"y":2.9},{"x":53,"y":3.9},{"x":53.4,"y":2.3},{"x":53.8,"y":3.3},{"x":54.2,"y":5},{"x":54.6,"y":2},{"x":50.4,"y":1.1},{"x":51.6,"y":0.9},{"x":52.8,"y":1.3},{"x":54,"y":1.5},{"x":50.8,"y":6},{"x":52.4,"y":7},{"x":53.6,"y":5.5},{"x":54.8,"y":2.6},{"x":51.2,"y":1.6},
      {"x":55.2,"y":3.1},{"x":55.6,"y":4},{"x":56,"y":2.4},{"x":56.4,"y":3.5},{"x":56.8,"y":4.8},{"x":57.2,"y":2.2},{"x":57.6,"y":3.2},{"x":58,"y":4.3},{"x":58.4,"y":2.6},{"x":58.8,"y":3.7},{"x":59.2,"y":5.5},{"x":59.6,"y":2.3},{"x":55.4,"y":1.3},{"x":56.6,"y":1.1},{"x":57.8,"y":1.6},{"x":59,"y":1.5},{"x":55.8,"y":6.5},{"x":57.4,"y":7},{"x":58.6,"y":6},{"x":59.8,"y":3},{"x":56.2,"y":1.8},
      {"x":60.2,"y":3.5},{"x":60.6,"y":4.4},{"x":61,"y":2.7},{"x":61.4,"y":3.8},{"x":61.8,"y":5.2},{"x":62.2,"y":2.5},{"x":62.6,"y":3.5},{"x":63,"y":4.7},{"x":63.4,"y":2.9},{"x":63.8,"y":4},{"x":64.2,"y":6},{"x":64.6,"y":2.6},{"x":60.4,"y":1.5},{"x":61.6,"y":1.7},{"x":62.8,"y":1.4},{"x":64,"y":1.9},{"x":60.8,"y":7},{"x":62.4,"y":8},{"x":63.6,"y":7.5},{"x":64.8,"y":3.2},{"x":65,"y":0.68},
      {"x":65.2,"y":3.8},{"x":65.6,"y":4.8},{"x":66,"y":3},{"x":66.4,"y":4.2},{"x":66.8,"y":5.6},{"x":67.2,"y":2.8},{"x":67.6,"y":3.9},{"x":68,"y":5.1},{"x":68.4,"y":3.2},{"x":68.8,"y":4.4},{"x":69.2,"y":6.5},{"x":69.6,"y":2.9},{"x":65.4,"y":1.7},{"x":66.6,"y":2},{"x":67.8,"y":1.6},{"x":69,"y":2.2},{"x":65.8,"y":7.5},{"x":67.4,"y":8.5},{"x":68.6,"y":8},{"x":69.8,"y":3.6},
      {"x":70.2,"y":4.2},{"x":70.6,"y":5.2},{"x":71,"y":3.3},{"x":71.4,"y":4.6},{"x":71.8,"y":6},{"x":72.2,"y":3.1},{"x":72.6,"y":4.2},{"x":73,"y":5.5},{"x":73.4,"y":3.5},{"x":73.8,"y":4.8},{"x":74.2,"y":7},{"x":74.6,"y":3.2},{"x":70.4,"y":2},{"x":71.6,"y":2.3},{"x":72.8,"y":1.9},{"x":74,"y":2.5},{"x":70.8,"y":8},{"x":72.4,"y":9},{"x":73.6,"y":8.5},
      {"x":75.2,"y":4.5},{"x":75.6,"y":5.5},{"x":76,"y":3.6},{"x":76.4,"y":4.9},{"x":76.8,"y":6.4},{"x":77.2,"y":3.4},{"x":77.6,"y":4.5},{"x":78,"y":5.9},{"x":78.4,"y":3.8},{"x":78.8,"y":5.2},{"x":79.2,"y":7.5},{"x":79.6,"y":2.07},{"x":75.4,"y":2.4},{"x":76.6,"y":2.07},{"x":77.8,"y":2.07},{"x":79,"y":2.07},{"x":75.8,"y":8.5},{"x":77.4,"y":9},{"x":78.6,"y":8},
      {"x":80.2,"y":4.8},{"x":80.6,"y":5.8},{"x":81,"y":3.9},{"x":81.4,"y":5.2},{"x":81.8,"y":6.8},{"x":82.2,"y":3.7},{"x":82.6,"y":4.8},{"x":83,"y":6.2},{"x":83.4,"y":4.1},{"x":83.8,"y":5.5},{"x":84.2,"y":7.8},{"x":80.4,"y":2.07},{"x":81.2,"y":2.07},{"x":82,"y":2.07},{"x":83.2,"y":2.8},{"x":84.6,"y":3},{"x":80.8,"y":9},{"x":82.4,"y":8.5},{"x":83.6,"y":9.5},
      {"x":85.2,"y":5.2},{"x":85.8,"y":6.3},{"x":86.4,"y":4.3},{"x":87,"y":5.6},{"x":87.6,"y":7.2},{"x":88.2,"y":4.6},{"x":88.8,"y":6},{"x":89.4,"y":8.2},{"x":86,"y":3.2},{"x":88,"y":3.5},{"x":89.8,"y":2.9},{"x":86.8,"y":9},
      {"x":90.2,"y":5.5},{"x":90.8,"y":6.6},{"x":91.4,"y":4.6},{"x":92,"y":5.9},{"x":92.6,"y":7.6},{"x":93.2,"y":4.9},{"x":93.8,"y":6.3},{"x":94.4,"y":8.5},{"x":91,"y":3.4},{"x":93,"y":3.7},{"x":94.8,"y":3.2},{"x":92.2,"y":9.5},
      {"x":95.2,"y":5.9},{"x":95.8,"y":7},{"x":96.4,"y":4.9},{"x":97,"y":6.3},{"x":97.6,"y":8},{"x":98.2,"y":5.2},{"x":98.8,"y":6.7},{"x":99.4,"y":9},{"x":96,"y":3.7},{"x":98,"y":4},{"x":99.8,"y":3.5},{"x":97.2,"y":9.5},
      {"x":100.2,"y":6.3},{"x":100.8,"y":7.4},{"x":101.4,"y":5.2},{"x":102,"y":6.7},{"x":102.6,"y":8.5},{"x":103.2,"y":5.5},{"x":103.8,"y":7.1},{"x":104.4,"y":9.3},{"x":101,"y":4},{"x":103,"y":4.3},{"x":104.8,"y":3.8},
      {"x":105.2,"y":6.7},{"x":105.8,"y":7.8},{"x":106.4,"y":5.5},{"x":107,"y":7.1},{"x":107.6,"y":9},{"x":108.2,"y":5.9},{"x":108.8,"y":7.5},{"x":109.4,"y":9.5},{"x":106,"y":4.3},{"x":108,"y":4.6},
      {"x":110.2,"y":7},{"x":110.8,"y":8.2},{"x":111.4,"y":5.8},{"x":112,"y":7.5},{"x":112.6,"y":9.4},{"x":113.2,"y":6.2},{"x":113.8,"y":7.9},{"x":114.4,"y":9.6},{"x":111,"y":4.6},{"x":115,"y":7.4},{"x":116,"y":8.6},{"x":117,"y":6.5},{"x":118,"y":9},{"x":116.5,"y":5},
      {"x":5.3,"y":0.5},{"x":6.8,"y":0.9},{"x":7.3,"y":0.3},{"x":8.9,"y":0.55},{"x":9.6,"y":1.1},{"x":6,"y":0.38},
      {"x":10.2,"y":0.8},{"x":10.9,"y":0.45},{"x":11.5,"y":0.95},{"x":12.1,"y":0.55},{"x":12.7,"y":1.2},{"x":13.3,"y":0.7},{"x":13.9,"y":1.5},{"x":14.3,"y":0.85},{"x":14.9,"y":0.5},{"x":11.2,"y":1.7},{"x":13.6,"y":2.5},
      {"x":15.3,"y":0.9},{"x":15.9,"y":1.3},{"x":16.4,"y":0.7},{"x":17.2,"y":1.1},{"x":17.8,"y":0.6},{"x":18.2,"y":1.6},{"x":18.8,"y":0.95},{"x":19.2,"y":1.4},{"x":19.8,"y":0.8},{"x":16.6,"y":3},{"x":18.5,"y":2.2},
      {"x":20.2,"y":1.2},{"x":20.8,"y":0.9},{"x":21.4,"y":1.6},{"x":21.9,"y":0.8},{"x":22.4,"y":1.4},{"x":23.1,"y":1.1},{"x":23.7,"y":2.2},{"x":24.3,"y":0.9},{"x":24.8,"y":1.9},{"x":21.6,"y":2.8},{"x":23.3,"y":0.55},
      {"x":25.3,"y":1.1},{"x":25.8,"y":1.7},{"x":26.3,"y":0.95},{"x":26.7,"y":1.4},{"x":27.4,"y":2.4},{"x":28,"y":1.2},{"x":28.5,"y":1.8},{"x":29.1,"y":1.4},{"x":29.7,"y":2.6},{"x":27,"y":0.7},{"x":28.9,"y":3.4},
      {"x":30.3,"y":1.5},{"x":30.9,"y":2.1},{"x":31.5,"y":1.3},{"x":32.1,"y":1.8},{"x":32.8,"y":2.5},{"x":33.3,"y":1.4},{"x":33.9,"y":2},{"x":34.5,"y":1.7},{"x":31.6,"y":3.5},{"x":33.6,"y":0.9},{"x":34.9,"y":2.6},
      {"x":35.3,"y":1.7},{"x":35.9,"y":2.3},{"x":36.5,"y":1.5},{"x":37.1,"y":2.6},{"x":37.7,"y":1.9},{"x":38.3,"y":2.2},{"x":38.9,"y":1.4},{"x":39.5,"y":2.9},{"x":36.3,"y":3.8},{"x":38.6,"y":0.75},
      {"x":40.3,"y":2},{"x":40.9,"y":2.7},{"x":41.5,"y":1.8},{"x":42.1,"y":2.5},{"x":42.9,"y":3.3},{"x":43.5,"y":2.1},{"x":44.1,"y":2.7},{"x":44.9,"y":1.9},{"x":45.5,"y":2.6},{"x":46.1,"y":3.1},{"x":46.9,"y":2.2},{"x":47.5,"y":2.9},{"x":48.3,"y":3.8},{"x":48.9,"y":2.4},{"x":49.5,"y":3.2},{"x":43.9,"y":4.6},{"x":47.1,"y":1.3},
      {"x":50.3,"y":2.9},{"x":51.1,"y":3.4},{"x":51.7,"y":2.5},{"x":52.5,"y":3.2},{"x":53.1,"y":4.1},{"x":53.9,"y":2.7},{"x":54.5,"y":3.6},{"x":55.3,"y":2.8},{"x":56.1,"y":3.9},{"x":56.9,"y":3.1},{"x":57.7,"y":4.5},{"x":58.5,"y":3.3},{"x":59.3,"y":3.9},{"x":55.9,"y":2.2},
      {"x":60.5,"y":3.8},{"x":61.5,"y":4.6},{"x":62.5,"y":3.2},{"x":63.5,"y":4.2},{"x":64.5,"y":5},{"x":65.5,"y":3.6},{"x":66.5,"y":4.5},{"x":67.5,"y":5.4},{"x":68.5,"y":3.9},{"x":69.5,"y":4.8},{"x":70.5,"y":4.4},{"x":71.5,"y":5.6},{"x":72.5,"y":3.8},{"x":73.5,"y":4.9},{"x":74.5,"y":5.8},{"x":75.5,"y":4.3},{"x":76.5,"y":5.2},{"x":77.5,"y":6.2},{"x":78.5,"y":4.6},{"x":79.5,"y":5.5}
    ],
    "bcurve": [
      {"x":2.8,"y":0.078},{"x":5,"y":0.1},{"x":7.5,"y":0.145},{"x":10,"y":0.19},{"x":12.5,"y":0.245},{"x":15,"y":0.31},{"x":17.5,"y":0.39},{"x":20,"y":0.47},{"x":22.5,"y":0.56},{"x":25,"y":0.66},{"x":27.5,"y":0.77},{"x":30,"y":0.89},{"x":32.5,"y":1.0},{"x":35,"y":1.12},{"x":37.5,"y":1.24},{"x":40,"y":1.37},{"x":42.5,"y":1.5},{"x":45,"y":1.63},{"x":47.5,"y":1.76},{"x":50,"y":1.9},{"x":55,"y":2.3},{"x":60,"y":2.7},{"x":65,"y":3.1},{"x":70,"y":3.5},{"x":75,"y":3.9},{"x":80,"y":4.3},{"x":85,"y":4.65},{"x":90,"y":5.0},{"x":95,"y":5.4},{"x":100,"y":5.75},{"x":105,"y":6.25},{"x":110,"y":6.7},{"x":115,"y":7.2},{"x":120,"y":7.7}
    ],
    "rcurve": [
      {"x":2.8,"y":0.32,"s":1},{"x":3.5,"y":0.335,"s":1},{"x":5,"y":0.37,"s":1},{"x":7.5,"y":0.46,"s":1},{"x":10,"y":0.56,"s":1},{"x":12.5,"y":0.66,"s":1},{"x":15,"y":0.76,"s":1},{"x":17.5,"y":0.87,"s":1},{"x":20,"y":0.98,"s":1},{"x":22.5,"y":1.08,"s":1},{"x":25,"y":1.2,"s":1},{"x":27.5,"y":1.32,"s":1},{"x":30,"y":1.45,"s":1},{"x":32.5,"y":1.57,"s":1},{"x":35,"y":1.7,"s":1},{"x":37.5,"y":1.82,"s":1},{"x":40,"y":1.95,"s":1},{"x":42.5,"y":2.1,"s":1},{"x":45,"y":2.25,"s":1},{"x":47.5,"y":2.42,"s":1},{"x":50,"y":2.6,"s":1},{"x":55,"y":3.0,"s":1},{"x":60,"y":3.4,"s":1},{"x":65,"y":3.8,"s":1},{"x":70,"y":4.15,"s":1},{"x":75,"y":4.5,"s":1},{"x":80,"y":4.8,"s":1},{"x":85,"y":5.15,"s":1},{"x":90,"y":5.5,"s":1},{"x":95,"y":5.85,"s":1},{"x":100,"y":6.25,"s":1},{"x":105,"y":6.65,"s":1},{"x":108,"y":6.9,"s":1},
      {"x":109.5,"y":7.0,"s":2},{"x":111.5,"y":7.2,"s":2},
      {"x":114.5,"y":7.45,"s":3},{"x":117,"y":7.7,"s":3}
    ],
    "dots": [
      {"x":0,"y":0.056,"c":"k"},{"x":0.8,"y":0.063,"c":"k"},{"x":1.05,"y":0.29,"c":"r"}
    ]
  },
  "layer": [
    {
      "data": {"name": "minor"},
      "mark": {"type": "rule", "color": "#b8b8b8", "strokeWidth": 1, "strokeDash": [1, 2.5]},
      "encoding": {
        "y": {"field": "v", "type": "quantitative", "scale": {"type": "log", "domain": [0.0001, 21.3], "nice": false}}
      }
    },
    {
      "data": {"name": "minor"},
      "mark": {"type": "rule", "color": "#444", "strokeWidth": 1},
      "encoding": {
        "x": {"datum": 0, "type": "quantitative"},
        "x2": {"datum": 0.8},
        "y": {"field": "v", "type": "quantitative"}
      }
    },
    {
      "data": {"name": "black"},
      "mark": {"type": "square", "size": 6, "color": "#000", "opacity": 1},
      "encoding": {
        "x": {
          "field": "x", "type": "quantitative",
          "scale": {"domain": [0, 120], "nice": false, "zero": false},
          "axis": {
            "values": [0, 20, 40, 60, 80, 100, 120],
            "title": "Sound Level (dB SPL)",
            "titleFontSize": 21, "titleFontWeight": "normal", "titleColor": "#000",
            "titleY": 50, "titleBaseline": "alphabetic",
            "labelFontSize": 16.5, "labelColor": "#000", "labelPadding": 17,
            "tickSize": -7, "tickColor": "#444", "domainColor": "#444", "domainWidth": 1.2,
            "gridColor": "#e2e2e2", "gridWidth": 1.3
          }
        },
        "y": {
          "field": "y", "type": "quantitative",
          "scale": {"type": "log", "domain": [0.0001, 21.3], "nice": false},
          "axis": {
            "values": [0.001, 0.01, 0.1, 1, 10],
            "format": "~g",
            "title": "Loudness Estimate",
            "titleFontSize": 21, "titleFontWeight": "normal", "titleColor": "#000",
            "titleX": -57, "titleY": 160, "titleBaseline": "alphabetic",
            "labelFontSize": 16.5, "labelColor": "#000", "labelPadding": 15,
            "tickSize": -7, "tickColor": "#444", "domainColor": "#444", "domainWidth": 1.2,
            "gridColor": "#e2e2e2", "gridWidth": 1.3
          }
        }
      }
    },
    {
      "data": {"name": "red"},
      "mark": {"type": "square", "size": 6, "color": "#ff0000", "opacity": 1},
      "encoding": {
        "x": {"field": "x", "type": "quantitative"},
        "y": {"field": "y", "type": "quantitative"}
      }
    },
    {
      "data": {"name": "bcurve"},
      "mark": {"type": "line", "color": "#000", "strokeWidth": 7.5, "strokeCap": "round", "interpolate": "monotone"},
      "encoding": {
        "x": {"field": "x", "type": "quantitative"},
        "y": {"field": "y", "type": "quantitative"}
      }
    },
    {
      "data": {"name": "rcurve"},
      "mark": {"type": "line", "color": "#ff0000", "strokeWidth": 7.5, "strokeCap": "round", "interpolate": "monotone"},
      "encoding": {
        "x": {"field": "x", "type": "quantitative"},
        "y": {"field": "y", "type": "quantitative"},
        "detail": {"field": "s", "type": "nominal"}
      }
    },
    {
      "data": {"name": "dots"},
      "mark": {"type": "circle", "size": 50, "opacity": 1},
      "encoding": {
        "x": {"field": "x", "type": "quantitative"},
        "y": {"field": "y", "type": "quantitative"},
        "color": {"field": "c", "type": "nominal", "scale": {"domain": ["k", "r"], "range": ["#000", "#ff0000"]}, "legend": null}
      }
    },
    {
      "data": {"values": [{"x1": 55.5, "x2": 120, "y1": 0.000125, "y2": 0.00092}]},
      "mark": {"type": "rect", "fill": "white"},
      "encoding": {
        "x": {"field": "x1", "type": "quantitative"},
        "x2": {"field": "x2"},
        "y": {"field": "y1", "type": "quantitative"},
        "y2": {"field": "y2"}
      }
    },
    {
      "data": {"values": [{"x": 90, "y": 0.00027, "t": "L\u2004=\u2004k\u2009[(I\u2004+\u2004cI₀)ᶿ\u2004−\u2004(cI₀)ᶿ]"}]},
      "mark": {"type": "text", "font": "Liberation Serif", "fontStyle": "italic", "fontSize": 25, "align": "center", "baseline": "alphabetic", "color": "#000"},
      "encoding": {
        "x": {"field": "x", "type": "quantitative"},
        "y": {"field": "y", "type": "quantitative"},
        "text": {"field": "t"}
      }
    }
  ]
}
